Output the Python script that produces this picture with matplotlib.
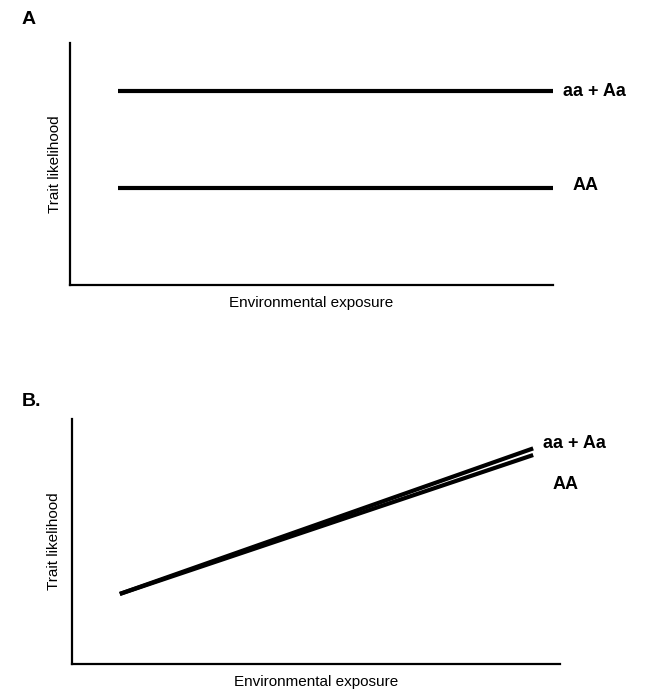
import matplotlib
matplotlib.use("Agg")
import matplotlib.pyplot as plt

plt.rcParams['font.family'] = ['Liberation Sans', 'DejaVu Sans']

# panel A: flat lines
exposure_a = [0.1, 1.0]
trait_a_het = [0.80, 0.80]   # aa + Aa
trait_a_hom = [0.40, 0.40]   # AA

# panel B: rising lines
exposure_b = [0.098, 0.945]
trait_b_het = [0.286, 0.88]
trait_b_hom = [0.286, 0.853]

group_labels = ['aa + Aa', 'AA']

W, H = 652, 692
fig = plt.figure(figsize=(W / 100, H / 100), dpi=100)


def px_axes(left, top, right, bottom):
    return fig.add_axes([left / W, 1 - bottom / H, (right - left) / W, (bottom - top) / H])


def style(ax):
    for s in ['top', 'right']:
        ax.spines[s].set_visible(False)
    for s in ['left', 'bottom']:
        ax.spines[s].set_linewidth(1.6)
    ax.set_xticks([])
    ax.set_yticks([])
    ax.set_xlim(0, 1)
    ax.set_ylim(0, 1)


axA = px_axes(70, 43, 553, 285)
style(axA)
axA.plot(exposure_a, trait_a_het, color='black', lw=3, solid_capstyle='butt')
axA.plot(exposure_a, trait_a_hom, color='black', lw=3, solid_capstyle='butt')
axA.text(1.02, trait_a_het[-1], group_labels[0], fontsize=13, fontweight='bold', va='center', clip_on=False)
axA.text(1.04, trait_a_hom[-1] + 0.01, group_labels[1], fontsize=13, fontweight='bold', va='center', clip_on=False)
axA.set_xlabel('Environmental exposure', fontsize=11, labelpad=8)
axA.set_ylabel('Trait likelihood', fontsize=11, labelpad=6)
fig.text(22 / W, 1 - 20 / H, 'A', fontsize=14, fontweight='bold', va='center')

axB = px_axes(72, 419, 560, 664)
style(axB)
axB.plot(exposure_b, trait_b_het, color='black', lw=3, solid_capstyle='butt')
axB.plot(exposure_b, trait_b_hom, color='black', lw=3, solid_capstyle='butt')
axB.text(0.965, trait_b_het[-1] + 0.02, group_labels[0], fontsize=13, fontweight='bold', va='center', clip_on=False)
axB.text(0.985, trait_b_hom[-1] - 0.12, group_labels[1], fontsize=13, fontweight='bold', va='center', clip_on=False)
axB.set_xlabel('Environmental exposure', fontsize=11, labelpad=8)
axB.set_ylabel('Trait likelihood', fontsize=11, labelpad=8)
fig.text(22 / W, 1 - 402 / H, 'B.', fontsize=14, fontweight='bold', va='center')

fig.savefig('out.png', dpi=100)
